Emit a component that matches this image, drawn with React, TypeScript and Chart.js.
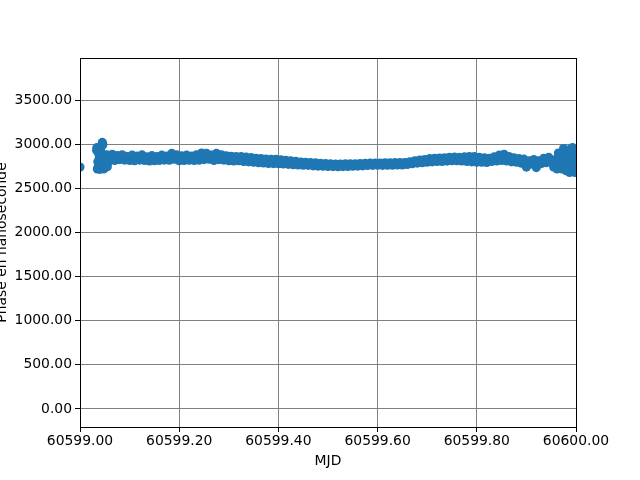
import React, { useEffect, useRef } from "react";
import { Chart, registerables } from "chart.js";

Chart.register(...registerables);

// MJD (x) values
const mjd: number[] = [
  // start cluster
  60599.000, 60599.034, 60599.035, 60599.036, 60599.037, 60599.038, 60599.039, 60599.040, 60599.041, 60599.042,
  60599.043, 60599.044, 60599.045, 60599.046, 60599.047, 60599.048, 60599.049, 60599.050,
  60599.052, 60599.054, 60599.056, 60599.058, 60599.060,
  // A
  60599.065, 60599.070, 60599.075, 60599.080, 60599.085, 60599.090, 60599.095, 60599.100,
  // B
  60599.105, 60599.110, 60599.115, 60599.120, 60599.125, 60599.130, 60599.135, 60599.140,
  // C
  60599.145, 60599.150, 60599.155, 60599.160, 60599.165, 60599.170, 60599.175, 60599.180, 60599.185, 60599.190,
  // D
  60599.195, 60599.200, 60599.205, 60599.210, 60599.215, 60599.220,
  // E
  60599.225, 60599.230, 60599.235, 60599.240, 60599.245, 60599.250, 60599.255, 60599.260,
  // F
  60599.265, 60599.270, 60599.275, 60599.280, 60599.285, 60599.290,
  // G
  60599.295, 60599.300, 60599.305, 60599.310, 60599.315, 60599.320,
  // H
  60599.325, 60599.330, 60599.335, 60599.340, 60599.345, 60599.350, 60599.355, 60599.360,
  // I
  60599.365, 60599.370, 60599.375, 60599.380, 60599.385, 60599.390, 60599.395, 60599.400,
  // J
  60599.405, 60599.410, 60599.415, 60599.420, 60599.425, 60599.430, 60599.435, 60599.440,
  // K
  60599.445, 60599.450, 60599.455, 60599.460, 60599.465, 60599.470, 60599.475, 60599.480,
  // L
  60599.485, 60599.490, 60599.495, 60599.500, 60599.505, 60599.510, 60599.515, 60599.520,
  // M
  60599.525, 60599.530, 60599.535, 60599.540, 60599.545, 60599.550, 60599.555, 60599.560, 60599.565,
  // N
  60599.570, 60599.575, 60599.580, 60599.585, 60599.590, 60599.595, 60599.600,
  // O
  60599.605, 60599.610, 60599.615, 60599.620, 60599.625, 60599.630, 60599.635, 60599.640, 60599.645,
  // P
  60599.650, 60599.655, 60599.660, 60599.665, 60599.670, 60599.675, 60599.680, 60599.685,
  // Q
  60599.690, 60599.695, 60599.700, 60599.705, 60599.710, 60599.715, 60599.720, 60599.725,
  // R
  60599.730, 60599.735, 60599.740, 60599.745, 60599.750, 60599.755, 60599.760, 60599.765,
  // S
  60599.770, 60599.775, 60599.780, 60599.785, 60599.790, 60599.795, 60599.800,
  // T
  60599.805, 60599.810, 60599.815, 60599.820, 60599.825,
  // U
  60599.830, 60599.835, 60599.840, 60599.845, 60599.850,
  // V
  60599.855, 60599.860, 60599.865, 60599.870, 60599.875,
  // W
  60599.880, 60599.885, 60599.890, 60599.895, 60599.900, 60599.905,
  // X
  60599.910, 60599.915, 60599.920, 60599.925,
  // Y
  60599.930, 60599.935, 60599.940, 60599.945, 60599.950,
  // Z
  60599.955, 60599.960, 60599.965, 60599.970,
  // end cluster
  60599.972, 60599.975, 60599.977, 60599.980, 60599.982, 60599.985, 60599.987, 60599.990, 60599.993, 60599.995,
  60599.997, 60599.999,
  // extra start samples
  60599.0335, 60599.0365, 60599.0395, 60599.0425, 60599.0455, 60599.0475, 60599.051, 60599.053, 60599.055,
  // extra end samples
  60599.9620, 60599.9645, 60599.9735, 60599.9760, 60599.9785, 60599.9810, 60599.9835, 60599.9860, 60599.9885,
  60599.9915, 60599.9940, 60599.9960, 60599.9980, 60599.9995,
];

// Phase in nanoseconds (y) values
const phase: number[] = [
  // start cluster
  2740, 2960, 2720, 2800, 2900, 2760, 2850, 2715, 2940, 2820,
  2780, 2880, 3020, 3000, 2740, 2800, 2870, 2760,
  2830, 2880, 2790, 2850, 2820,
  // A
  2885, 2815, 2870, 2825, 2880, 2820, 2860, 2815,
  // B
  2875, 2812, 2865, 2820, 2878, 2815, 2855, 2810,
  // C
  2870, 2812, 2860, 2815, 2875, 2820, 2865, 2818, 2895, 2830,
  // D
  2878, 2812, 2868, 2815, 2875, 2818,
  // E
  2865, 2815, 2880, 2818, 2900, 2825, 2895, 2830,
  // F
  2875, 2815, 2895, 2825, 2880, 2820,
  // G
  2868, 2812, 2862, 2810, 2860, 2812,
  // H
  2858, 2805, 2852, 2800, 2848, 2795, 2840, 2790,
  // I
  2835, 2788, 2832, 2782, 2828, 2780, 2828, 2778,
  // J
  2822, 2776, 2818, 2772, 2810, 2768, 2805, 2765,
  // K
  2798, 2762, 2795, 2760, 2790, 2755, 2788, 2752,
  // L
  2782, 2750, 2780, 2748, 2776, 2746, 2775, 2745,
  // M
  2774, 2746, 2776, 2748, 2778, 2750, 2778, 2752, 2780,
  // N
  2755, 2782, 2758, 2785, 2760, 2786, 2762,
  // O
  2786, 2760, 2788, 2762, 2788, 2762, 2790, 2764, 2790,
  // P
  2765, 2792, 2770, 2800, 2778, 2812, 2786, 2820,
  // Q
  2790, 2825, 2795, 2835, 2800, 2840, 2805, 2842,
  // R
  2805, 2845, 2808, 2850, 2812, 2852, 2812, 2850,
  // S
  2810, 2855, 2805, 2860, 2800, 2858, 2795,
  // T
  2850, 2795, 2845, 2792, 2840,
  // U
  2805, 2855, 2810, 2875, 2815,
  // V
  2885, 2810, 2860, 2800, 2845,
  // W
  2795, 2835, 2785, 2830, 2740, 2810,
  // X
  2775, 2825, 2735, 2810,
  // Y
  2780, 2840, 2790, 2850, 2800,
  // Z
  2740, 2830, 2760, 2860,
  // end cluster
  2720, 2950, 2880, 2700, 2760, 2890, 2680, 2860, 2960, 2690,
  2930, 2700,
  // extra start samples
  2930, 2730, 2740, 2910, 2990, 2720, 2735, 2750, 2745,
  // extra end samples
  2720, 2900, 2800, 2760, 2820, 2910, 2700, 2790, 2940,
  2750, 2820, 2880, 2680, 2800,
];

const xTicks: number[] = [60599.0, 60599.2, 60599.4, 60599.6, 60599.8, 60600.0];
const yTicks: number[] = [0, 500, 1000, 1500, 2000, 2500, 3000, 3500];
const xMin = 60599.0;
const xMax = 60600.0;
const yMin = -204;
const yMax = 3976;
const xTitle = "MJD";
const yTitle = "Phase en nanoseconde";

export default function App() {
  const ref = useRef<HTMLCanvasElement>(null);

  useEffect(() => {
    const canvas = ref.current;
    if (!canvas) return;
    const font = { family: "'DejaVu Sans', sans-serif", size: 13.9 };

    const framePlugin = {
      id: "frameAndYTitle",
      afterDraw(chart: any) {
        const { ctx, chartArea: a } = chart;
        ctx.save();
        ctx.strokeStyle = "#000";
        ctx.lineWidth = 1;
        ctx.strokeRect(
          Math.round(a.left) + 0.5,
          Math.round(a.top) + 0.5,
          Math.round(a.right - a.left),
          Math.round(a.bottom - a.top)
        );
        ctx.translate(5.5, (a.top + a.bottom) / 2);
        ctx.rotate(-Math.PI / 2);
        ctx.font = "13.9px 'DejaVu Sans', sans-serif";
        ctx.fillStyle = "#000";
        ctx.textAlign = "center";
        ctx.textBaseline = "alphabetic";
        ctx.fillText(yTitle, 0, 0);
        ctx.restore();
      },
    };

    const data = mjd.map((x, i) => ({ x, y: phase[i] }));

    const chart = new Chart(canvas, {
      type: "scatter",
      data: {
        datasets: [
          {
            data,
            backgroundColor: "#1f77b4",
            borderColor: "#1f77b4",
            pointRadius: 4.6,
            pointBorderWidth: 0,
            pointHoverRadius: 4.6,
            clip: 0,
          } as any,
        ],
      },
      options: {
        responsive: false,
        animation: false,
        devicePixelRatio: 1,
        events: [],
        layout: { padding: { top: 58, right: 64, left: 0, bottom: 0 } },
        plugins: {
          legend: { display: false },
          tooltip: { enabled: false },
          title: { display: false },
        },
        scales: {
          x: {
            type: "linear",
            min: xMin,
            max: xMax,
            afterBuildTicks: (s: any) => {
              s.ticks = xTicks.map((v) => ({ value: v }));
            },
            afterFit: (s: any) => {
              s.height = 53;
            },
            ticks: {
              callback: (v: any) => Number(v).toFixed(2),
              color: "#000",
              font,
              padding: 1,
              maxRotation: 0,
              autoSkip: false,
            },
            grid: { color: "#808080", lineWidth: 1, tickColor: "#000", tickLength: 5 },
            border: { color: "#000", width: 1 },
            title: {
              display: true,
              text: xTitle,
              color: "#000",
              font,
              padding: { top: 0, bottom: 10 },
            },
          },
          y: {
            type: "linear",
            min: yMin,
            max: yMax,
            afterBuildTicks: (s: any) => {
              s.ticks = yTicks.map((v) => ({ value: v }));
            },
            afterFit: (s: any) => {
              s.width = 80;
            },
            ticks: {
              callback: (v: any) => Number(v).toFixed(2),
              color: "#000",
              font,
              padding: 3,
              autoSkip: false,
            },
            grid: { color: "#808080", lineWidth: 1, tickColor: "#000", tickLength: 5 },
            border: { color: "#000", width: 1 },
            title: { display: false },
          },
        },
      },
      plugins: [framePlugin],
    });

    return () => chart.destroy();
  }, []);

  return (
    <div style={{ position: "absolute", left: 0, top: 0, width: 640, height: 480, background: "#fff" }}>
      <canvas ref={ref} width={640} height={480} style={{ display: "block" }} />
    </div>
  );
}
